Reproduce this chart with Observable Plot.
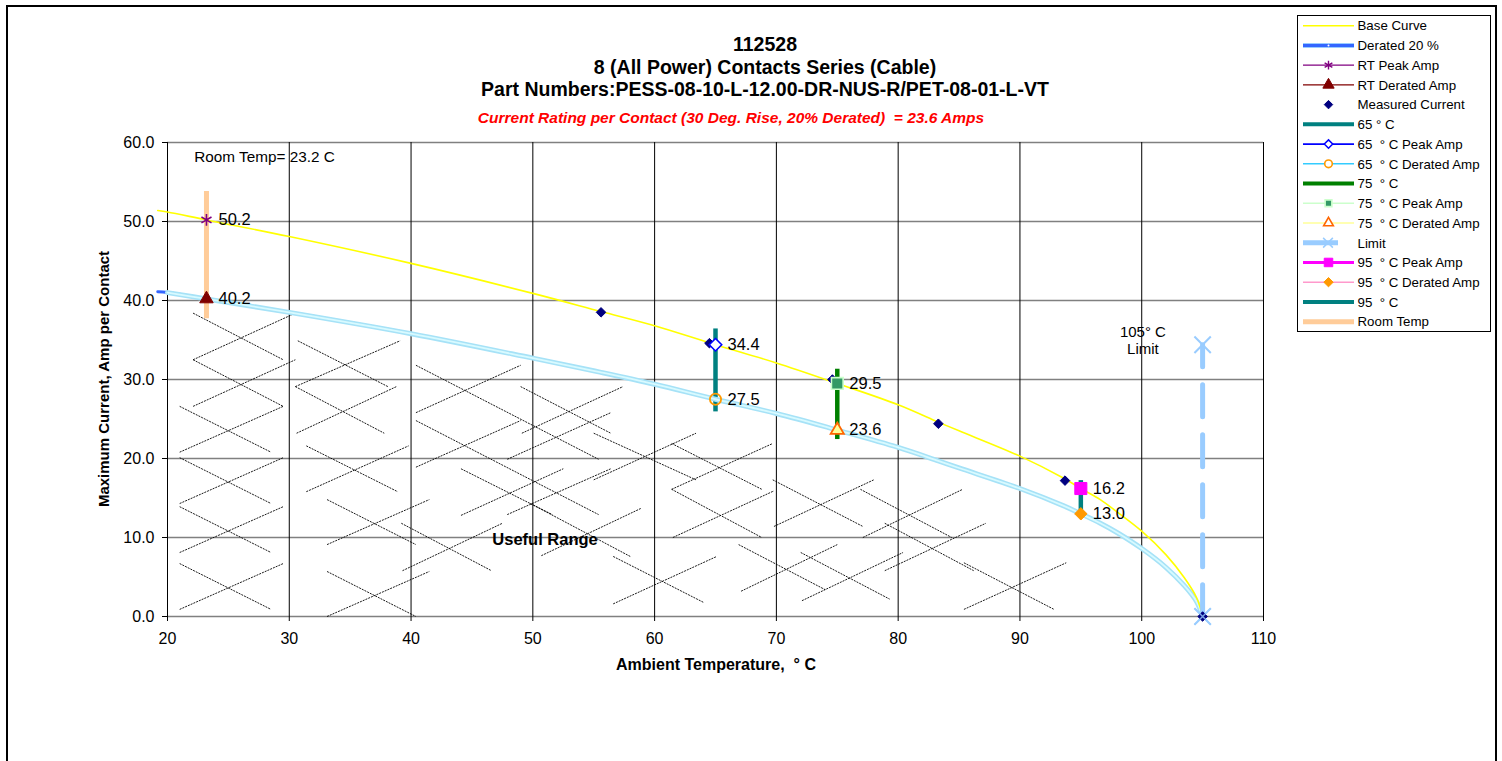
<!DOCTYPE html>
<html><head><meta charset="utf-8">
<script src="https://cdn.jsdelivr.net/npm/d3@7"></script>
<script src="https://cdn.jsdelivr.net/npm/@observablehq/plot@0.6"></script>
<style>
body{margin:0;background:#fff;font-family:"Liberation Sans",Arial,sans-serif;}
#wrap{position:relative;width:1502px;height:761px;overflow:hidden;background:#fff;}
.t{position:absolute;white-space:pre;color:#000;line-height:1;}
#frame{position:absolute;left:6px;top:5px;width:1491px;height:820px;box-sizing:border-box;border:2px solid #000;}
#chart{position:absolute;left:0;top:0;}
#legend{position:absolute;left:1297px;top:15px;}
</style></head><body><div id="wrap"><div id="frame"></div><div id="chart"></div><div id="legend"></div></div>
<script>
// ---------- data ----------
const xTicks = [20,30,40,50,60,70,80,90,100,110];
const yTicks = [0,10,20,30,40,50,60];
const curveTemp  = [19.2,20,23.2,30,40,50,55.6,60,65,70,75,80,83.3,85,90,93.6,95,96.6,98,100,102,103.5,104.5,105];
const baseAmp    = [51.4,51.2,50.2,48.1,44.7,40.9,38.6,36.8,34.4,32.1,29.5,26.8,24.6,23.5,20.3,17.5,16.2,14.8,13.2,10.8,7.8,4.9,2.4,0];
const deratedAmp = [41.1,41.0,40.2,38.5,35.8,32.7,30.9,29.4,27.5,25.7,23.6,21.4,19.7,18.8,16.2,14.0,13.0,11.8,10.6,8.6,6.2,3.9,1.9,0];
const measTemp = [55.6,64.5,74.6,83.3,93.7,105];
const measAmp  = [38.5,34.6,30.0,24.4,17.2,0];
const testTemp = [23.2,65,75,95];
const peakAmp  = [50.2,34.4,29.5,16.2];
const derAmp   = [40.2,27.5,23.6,13.0];
const barLow   = [37.7,25.9,22.4,13.0];
const barHigh  = [53.8,36.4,31.3,17.2];
const limitTemp = 105;
const limitAmp  = [34.4,0];
// decorative "useful range" hatch segments [x1,y1,x2,y2] in chart units
const hatch = [
 [22.1,38.4,29.5,32.5],[22.1,32.5,30.5,38.4],[22.1,32.5,29.5,26.6],[22.1,26.6,30.5,32.5],
 [21.0,26.6,28.5,20.8],[21.0,20.8,29.5,26.6],[21.0,20.1,28.5,14.3],[21.0,14.3,29.5,20.1],
 [21.0,13.9,28.5,8.1],[21.0,8.1,29.5,13.9],[21.0,6.7,28.5,0.9],[21.0,0.9,29.5,6.7],
 [30.7,34.9,38.1,29.1],[30.5,29.1,39.1,34.9],[30.5,29.1,37.8,23.2],[30.6,23.2,38.8,29.1],
 [31.4,21.6,38.9,15.8],[31.4,15.8,39.8,21.6],[33.1,14.8,40.4,9.1],[33.1,9.1,41.5,14.8],
 [33.1,5.7,40.4,0],[33.1,0,41.5,5.7],[39.2,11.8,46.6,5.8],[39.3,5.8,47.5,11.8],
 [40.4,31.8,55.4,19.9],[40.4,25.8,49.0,31.8],[40.4,24.8,55.4,12.9],[40.4,18.9,49.0,24.8],
 [44.1,18.7,51.6,12.9],[44.1,12.8,52.5,18.7],[49.0,29.1,56.4,23.2],[49.1,23.2,57.4,29.1],
 [47.9,19.9,56.4,25.8],[47.9,12.9,56.4,18.7],[49.8,14.3,58.0,7.6],[50.7,7.7,58.9,13.7],
 [55.0,23.2,63.4,17.3],[55.0,17.3,63.4,23.2],[56.6,7.6,64.0,1.8],[56.6,1.6,65.1,7.6],
 [61.4,21.9,68.8,16.1],[61.4,16.1,69.7,21.9],[61.4,16.1,68.8,10.0],[61.5,10.0,69.8,15.9],
 [69.7,17.3,77.1,11.4],[69.8,11.4,78.0,17.3],[76.9,16.1,84.4,10.0],[77.1,10.0,85.3,16.1],
 [78.9,11.8,86.2,5.8],[78.9,5.8,87.2,11.8],[66.9,9.1,74.0,3.4],[67.1,3.2,75.0,9.1],
 [72.0,8.1,79.3,2.2],[72.1,2.0,80.4,8.1],[85.4,6.8,92.8,0.9],[85.4,0.9,93.8,6.8]
];
const legendLabels = ["Base Curve","Derated 20 %","RT Peak Amp","RT Derated Amp","Measured Current","65 ° C",
 "65  ° C Peak Amp","65  ° C Derated Amp","75  ° C","75  ° C Peak Amp","75  ° C Derated Amp","Limit",
 "95  ° C Peak Amp","95  ° C Derated Amp","95  ° C","Room Temp"];
const titleLines = ["112528","8 (All Power) Contacts Series (Cable)","Part Numbers:PESS-08-10-L-12.00-DR-NUS-R/PET-08-01-L-VT"];
const subtitle = "Current Rating per Contact (30 Deg. Rise, 20% Derated)  = 23.6 Amps";
const xTitle = "Ambient Temperature,  ° C";
const yTitle = "Maximum Current, Amp per Contact";
const notes = [
 {x:22.2, y:58.1, text:"Room Temp= 23.2 C", anchor:"start", size:15.3, weight:"normal"},
 {x:100.1, y:36.0, text:"105° C", anchor:"middle", size:15, weight:"normal"},
 {x:100.1, y:33.8, text:"Limit", anchor:"middle", size:15, weight:"normal"},
 {x:51.0, y:9.75, text:"Useful Range", anchor:"middle", size:16.5, weight:"bold"}
];

// ---------- tables ----------
const curve = curveTemp.map((t,i)=>({t, base:baseAmp[i], der:deratedAmp[i]}));
const meas = measTemp.map((t,i)=>({t, a:measAmp[i]}));
const tests = testTemp.map((t,i)=>({t, peak:peakAmp[i], der:derAmp[i], lo:barLow[i], hi:barHigh[i]}));
const limitPts = limitAmp.map(a=>({t:limitTemp, a}));

// ---------- styles ----------
const barColors = ["#FFCC99","#008080","#008000","#008080"];
const peakStyle = [
 {symbol:"asterisk", stroke:"#800080", fill:"none", r:5.5, sw:1.6},
 {symbol:"diamond2", stroke:"#0000FF", fill:"#FFFFFF", r:5.6, sw:1.6},
 {symbol:"square", stroke:"#CCFFCC", fill:"#339966", r:6.6, sw:1.6},
 {symbol:"square", stroke:"#FF00FF", fill:"#FF00FF", r:6.8, sw:1}
];
const derStyle = [
 {symbol:"triangle", stroke:"#800000", fill:"#800000", r:5, sw:1},
 {symbol:"circle", stroke:"#FF9900", fill:"none", r:5.6, sw:1.8},
 {symbol:"triangle", stroke:"#FF6600", fill:"#FFFF99", r:4.9, sw:1.8},
 {symbol:"diamond2", stroke:"#FF9900", fill:"#FF9900", r:5.6, sw:1}
];

const W = 1502, H = 700;
const L = 167, R = 1263, T = 142, B = 616;
const font = '"Liberation Sans", Arial, sans-serif';
const smooth = "catmull-rom";
const band = curve.filter(d=>d.t>=20);

const marks = [
 Plot.gridY(yTicks, {stroke:"#808080", strokeOpacity:1, strokeWidth:1.6}),
 Plot.gridX(xTicks, {stroke:"#000", strokeOpacity:1, strokeWidth:1}),
 Plot.axisY({ticks:yTicks, tickFormat:d=>d.toFixed(1), tickSize:5, tickPadding:8, fontSize:16, label:null}),
 Plot.axisX({ticks:xTicks, tickFormat:d=>String(d), tickSize:5, tickPadding:11, fontSize:16, label:null}),
 Plot.link(hatch, {x1:d=>d[0], y1:d=>d[1], x2:d=>d[2], y2:d=>d[3], stroke:"#000", strokeWidth:0.9, strokeDasharray:"2,1"}),
 ...tests.map((d,i)=>Plot.ruleX([d], {x:"t", y1:"lo", y2:"hi", stroke:barColors[i], strokeWidth:i===0?5:4.5})),
 Plot.line(curve, {x:"t", y:"der", stroke:"#3366FF", strokeWidth:3, curve:smooth}),
 Plot.line(band, {x:"t", y:"der", stroke:"#A6E2F7", strokeWidth:5, curve:smooth}),
 Plot.line(band, {x:"t", y:"der", stroke:"#D8FAFF", strokeWidth:1.8, curve:smooth}),
 Plot.line(curve, {x:"t", y:"base", stroke:"#FFFF00", strokeWidth:1.6, curve:smooth}),
 Plot.line(limitPts, {x:"t", y:"a", stroke:"#99CCFF", strokeWidth:5, strokeDasharray:"32,18", strokeDashoffset:10}),
 Plot.dot(limitPts, {x:"t", y:"a", symbol:"times", r:7.5, stroke:"#99CCFF", strokeWidth:2}),
 Plot.dot(meas, {x:"t", y:"a", symbol:"diamond2", r:4.3, fill:"#000080", stroke:"#000080", strokeWidth:1}),
 ...tests.map((d,i)=>Plot.dot([d], {x:"t", y:"peak", symbol:peakStyle[i].symbol, r:peakStyle[i].r, fill:peakStyle[i].fill, stroke:peakStyle[i].stroke, strokeWidth:peakStyle[i].sw})),
 ...tests.map((d,i)=>Plot.dot([d], {x:"t", y:"der", symbol:derStyle[i].symbol, r:derStyle[i].r, fill:derStyle[i].fill, stroke:derStyle[i].stroke, strokeWidth:derStyle[i].sw})),
 Plot.text(tests, {x:"t", y:"peak", text:d=>d.peak.toFixed(1), dx:12, textAnchor:"start", fontSize:16.5, fill:"#000"}),
 Plot.text(tests, {x:"t", y:"der", text:d=>d.der.toFixed(1), dx:12, textAnchor:"start", fontSize:16.5, fill:"#000"}),
 Plot.dot([limitPts[1]], {x:"t", y:"a", symbol:"times", r:7.5, stroke:"#99CCFF", strokeWidth:1.5, strokeOpacity:0.8}),
 ...notes.map(n=>Plot.text([n], {x:"x", y:"y", text:"text", textAnchor:n.anchor, fontSize:n.size, fontWeight:n.weight, fill:"#000"}))
];

const chart = Plot.plot({
 width:W, height:H,
 marginLeft:L, marginRight:W-R, marginTop:T, marginBottom:H-B,
 x:{domain:[20,110]}, y:{domain:[0,60]},
 style:{fontFamily:font, fontSize:"16px", color:"#000", background:"transparent", overflow:"visible"},
 marks
});
document.getElementById("chart").appendChild(chart);

// ---------- HTML texts ----------
const wrap = document.getElementById("wrap");
function addText(txt, css){
 const d = document.createElement("div"); d.className="t"; d.textContent = txt;
 Object.assign(d.style, css); wrap.appendChild(d); return d;
}
const titleY = [45, 68, 90];
titleLines.forEach((s,i)=>addText(s,{left:"765px", top:(titleY[i]-10)+"px", transform:"translateX(-50%)", fontSize:"19.5px", fontWeight:"bold"}));
addText(subtitle,{left:"731px", top:(118-8)+"px", transform:"translateX(-50%)", fontSize:"15.5px", fontWeight:"bold", fontStyle:"italic", color:"#FF0000"});
addText(xTitle,{left:"716px", top:(665-8)+"px", transform:"translateX(-50%)", fontSize:"16px", fontWeight:"bold"});
addText(yTitle,{left:"103px", top:"379px", transform:"translate(-50%,-50%) rotate(-90deg)", fontSize:"15px", fontWeight:"bold"});

// ---------- legend ----------
const legendStyles = [
 {line:["#FFFF00",1.5]},
 {under:["#99CCFF",5], line:["#3366FF",3], dot:true},
 {line:["#800080",1.2], m:{s:d3.symbolAsterisk, stroke:"#800080", fill:"none", r:4.2, sw:1.4}},
 {line:["#800000",1.2], m:{s:d3.symbolTriangle, stroke:"#800000", fill:"#800000", r:4.2, sw:1}},
 {m:{s:d3.symbolDiamond2, stroke:"#000080", fill:"#000080", r:3.8, sw:1}},
 {line:["#008080",4]},
 {line:["#0000FF",1.6], m:{s:d3.symbolDiamond2, stroke:"#0000FF", fill:"#FFFFFF", r:3.8, sw:1.5}},
 {line:["#33CCFF",1.4], m:{s:d3.symbolCircle, stroke:"#FF9900", fill:"#FFFFFF", r:3.8, sw:1.6}},
 {line:["#008000",4]},
 {line:["#CCFFCC",1.6], m:{s:d3.symbolSquare, stroke:"#CCFFCC", fill:"#339966", r:3.8, sw:1.6}},
 {line:["#FFFF99",1.6], m:{s:d3.symbolTriangle, stroke:"#FF6600", fill:"#FFFFFF", r:3.6, sw:1.6}},
 {line:["#99CCFF",5], short:true, m:{s:d3.symbolTimes, stroke:"#99CCFF", fill:"none", r:4.5, sw:1.5}},
 {line:["#FF00FF",3], m:{s:d3.symbolSquare, stroke:"#FF00FF", fill:"#FF00FF", r:4.8, sw:1}},
 {line:["#FF99CC",1.4], m:{s:d3.symbolDiamond2, stroke:"#FF9900", fill:"#FF9900", r:4.2, sw:1}},
 {line:["#008080",4]},
 {line:["#FFCC99",5]}
];
const LW = 194, LH = 317, rowH = 19.73, row0 = 10.7;
const svg = d3.select("#legend").append("svg").attr("width",LW).attr("height",LH)
 .style("font-family",font).style("font-size","13.3px");
svg.append("rect").attr("x",0.5).attr("y",0.5).attr("width",LW-1).attr("height",LH-1).attr("fill","#fff").attr("stroke","#000").attr("stroke-width",1);
legendLabels.forEach((lab,i)=>{
 const st = legendStyles[i], y = row0 + i*rowH;
 const x1 = 6, x2 = st.short ? 41 : 57, xm = st.short ? 31 : 31.5;
 if (st.under) svg.append("line").attr("x1",x1).attr("x2",x2).attr("y1",y).attr("y2",y).attr("stroke",st.under[0]).attr("stroke-width",st.under[1]);
 if (st.line) svg.append("line").attr("x1",x1).attr("x2",x2).attr("y1",y).attr("y2",y).attr("stroke",st.line[0]).attr("stroke-width",st.line[1]);
 if (st.dot) svg.append("circle").attr("cx",xm).attr("cy",y).attr("r",1).attr("fill","#fff");
 if (st.m) svg.append("path").attr("d",d3.symbol(st.m.s, Math.PI*st.m.r*st.m.r)()).attr("transform",`translate(${xm},${y})`)
   .attr("fill",st.m.fill).attr("stroke",st.m.stroke).attr("stroke-width",st.m.sw);
 svg.append("text").attr("x",60.5).attr("y",y).attr("dy","0.36em").attr("fill","#000").style("white-space","pre").text(lab);
});
</script></body></html>
